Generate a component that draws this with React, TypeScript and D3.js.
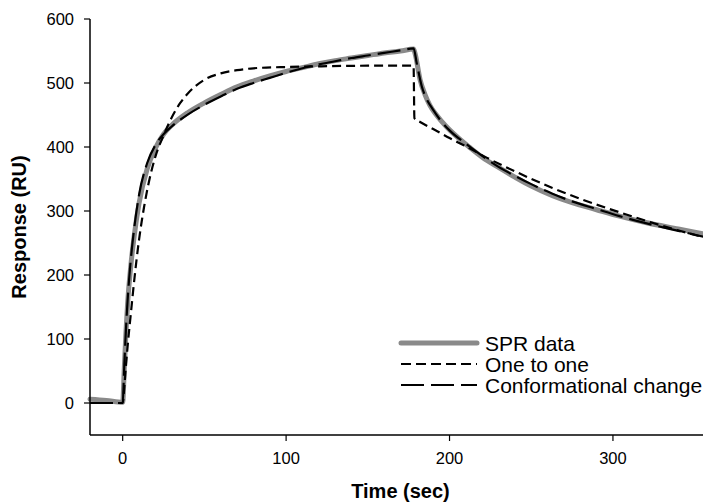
import React from "react";
import * as d3 from "d3";

const W = 703;
const H = 504;

// SPR data (time sec, response RU)
const sprT = [-20, -10, 0, 1, 2, 3, 5, 7, 10, 15, 20, 25, 30, 40, 50, 60, 70, 80, 90, 100, 110, 120, 130, 140, 150, 160, 170, 178, 179, 182, 185, 188, 192, 198, 205, 212, 220, 230, 240, 250, 263, 275, 290, 304, 320, 340, 360];
const sprV = [6, 4, 1, 55, 110, 155, 215, 260, 312, 366, 398, 420, 434, 454, 469, 482, 494, 503, 511, 518, 524, 530, 535, 539, 543, 547, 550, 553, 545, 505, 482, 465, 450, 432, 415, 400, 384, 368, 353, 339, 324, 313, 302, 292, 282, 272, 262];

// One to one fit
const oneT = [-20, 0, 1, 2, 3, 5, 7, 10, 13, 16, 20, 25, 30, 35, 40, 50, 60, 70, 80, 100, 120, 150, 178, 178.5, 182, 190, 200, 210, 223, 240, 263, 280, 304, 330, 360];
const oneV = [0, 0, 25, 58, 88, 140, 190, 255, 305, 345, 385, 418, 446, 468, 484, 505, 515, 520, 523, 525, 526, 527, 527, 445, 439, 428, 414, 401, 383, 362, 336, 319, 298, 277, 256];

// Conformational change fit
const confT = [-20, 0, 1, 2, 3, 5, 7, 10, 15, 20, 25, 30, 40, 50, 60, 70, 80, 90, 100, 110, 120, 130, 140, 150, 160, 170, 178, 180, 183, 186, 190, 195, 200, 210, 220, 230, 240, 250, 263, 275, 290, 304, 320, 340, 360];
const confV = [0, 0, 60, 115, 160, 225, 272, 325, 375, 403, 420, 432, 451, 466, 479, 491, 500, 508, 516, 523, 529, 534, 539, 543, 547, 551, 554, 530, 495, 475, 458, 440, 426, 405, 386, 369, 355, 342, 327, 315, 303, 292, 281, 269, 257];

const xTicks = [0, 100, 200, 300];
const yTicks = [0, 100, 200, 300, 400, 500, 600];

const legendLabels = ["SPR data", "One to one", "Conformational change"];

const FONT = "'Liberation Sans', Arial, Helvetica, sans-serif";

export default function App() {
  const x = d3.scaleLinear().domain([-20, 360]).range([90, 711]);
  const y = d3.scaleLinear().domain([-50, 600]).range([435, 19]);

  const line = d3
    .line<[number, number]>()
    .x((d) => x(d[0]))
    .y((d) => y(d[1]))
    .curve(d3.curveMonotoneX);

  const spr = sprT.map((t, i) => [t, sprV[i]] as [number, number]);
  const one = oneT.map((t, i) => [t, oneV[i]] as [number, number]);
  const conf = confT.map((t, i) => [t, confV[i]] as [number, number]);

  const legendStyles = [
    { stroke: "#8a8a8a", width: 5, dash: undefined as string | undefined },
    { stroke: "#000", width: 2, dash: "10,5" },
    { stroke: "#000", width: 2, dash: "23,7" },
  ];

  return (
    <svg
      width={W}
      height={H}
      style={{ position: "absolute", left: 0, top: 0, background: "#fff" }}
      fontFamily={FONT}
    >
      <rect x={0} y={0} width={W} height={H} fill="#fff" />
      {/* data lines */}
      <path d={line(spr) || ""} fill="none" stroke="#8a8a8a" strokeWidth={5} strokeLinejoin="round" strokeLinecap="round" />
      <path d={line(one) || ""} fill="none" stroke="#000" strokeWidth={2.2} strokeDasharray="9,5" />
      <path d={line(conf) || ""} fill="none" stroke="#000" strokeWidth={2.2} strokeDasharray="23,7" />

      {/* axes */}
      <line x1={x(-20)} x2={x(-20)} y1={y(600)} y2={y(-50)} stroke="#000" strokeWidth={1.5} />
      <line x1={x(-20)} x2={x(360)} y1={y(-50)} y2={y(-50)} stroke="#000" strokeWidth={1.5} />
      {yTicks.map((v) => (
        <g key={"y" + v}>
          <line x1={x(-20) - 6} x2={x(-20)} y1={y(v)} y2={y(v)} stroke="#000" strokeWidth={1.2} />
          <text x={74} y={y(v)} dy="0.35em" textAnchor="end" fontSize={16.5}>
            {v}
          </text>
        </g>
      ))}
      {xTicks.map((t) => (
        <g key={"x" + t}>
          <line x1={x(t)} x2={x(t)} y1={y(-50)} y2={y(-50) + 6} stroke="#000" strokeWidth={1.2} />
          <text x={x(t)} y={464} textAnchor="middle" fontSize={16.5}>
            {t}
          </text>
        </g>
      ))}

      {/* axis titles */}
      <text x={(x(-20) + x(360)) / 2} y={498} textAnchor="middle" fontSize={20} fontWeight="bold">
        Time (sec)
      </text>
      <text
        transform={`translate(26, ${(y(600) + y(-50)) / 2}) rotate(-90)`}
        textAnchor="middle"
        fontSize={20}
        fontWeight="bold"
      >
        Response (RU)
      </text>

      {/* legend */}
      {legendLabels.map((lab, i) => {
        const ly = 343 + i * 21;
        const s = legendStyles[i];
        return (
          <g key={lab}>
            <line x1={401} x2={477} y1={ly} y2={ly} stroke={s.stroke} strokeWidth={s.width} strokeDasharray={s.dash} strokeLinecap={i === 0 ? "round" : "butt"} />
            <text x={485} y={ly} dy="0.36em" fontSize={21}>
              {lab}
            </text>
          </g>
        );
      })}
    </svg>
  );
}
